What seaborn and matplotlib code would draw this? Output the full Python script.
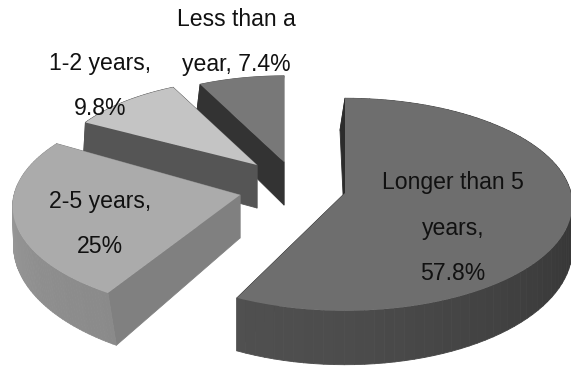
import numpy as np
import matplotlib
matplotlib.use("Agg")
import matplotlib.pyplot as plt
import seaborn as sns
from matplotlib.collections import PolyCollection
from matplotlib.transforms import Transform

# data
categories = ["Longer than 5 years", "2-5 years", "1-2 years", "Less than a year"]
shares = [57.8, 25, 9.8, 7.4]
labels = ["Longer than 5\nyears,\n57.8%", "2-5 years,\n25%", "1-2 years,\n9.8%", "Less than a\nyear, 7.4%"]

# styling / layout (figure pixels)
top_colors = ["#6e6e6e", "#ababab", "#c4c4c4", "#787878"]
rim_colors = [("#333333", "#505050"), ("#8a8a8a", "#9a9a9a"), ("#666666", "#666666"), ("#666666", "#666666")]
cut_colors = ["#2c2c2c", "#808080", "#555555", "#333333"]
apex_x = [345, 240, 257, 284]
apex_y = [193, 195, 165, 162]
radii = [1.0, 1.0, 0.9, 0.9]
theta1_shift = [2.5, -3, 0, 0]   # perspective correction of the drawn wedge, degrees
theta2_shift = [0, -4, 0, 0]
front_skew = [0, 10, 0, 0]
label_x = [453, 100, 100, 236]
label_y = [228, 224, 86, 42]
K, BX, BY = 0.108, 226, 105
W, H = 571, 367


class Tilt(Transform):
    input_dims = output_dims = 2
    is_separable = False
    has_inverse = False

    def __init__(self, cx, cy):
        super().__init__()
        self.cx, self.cy = cx, cy

    def transform_non_affine(self, values):
        v = np.asarray(values, float)
        s = 1 + K * v[:, 1]
        return np.column_stack([self.cx + BX * v[:, 0] / s, self.cy - BY * v[:, 1] / s])


def drop(pts, xy, skew):
    y = xy[:, 1]
    out = pts.copy()
    out[:, 1] += 43 - 11 * y
    out[:, 0] += -5 * np.clip(y, 0, 1) + skew * np.clip(-y, 0, 1)
    return out


sns.set_theme(style="white")
plt.rcParams["font.family"] = ["Liberation Sans", "DejaVu Sans"]
fig, ax = plt.subplots(figsize=(W / 100, H / 100), dpi=100)
ax.set_position([0, 0, 1, 1])
wedges, _ = ax.pie(shares, startangle=90, counterclock=False, colors=top_colors, radius=1)
ax.set_aspect("auto")
ax.set_xlim(0, W)
ax.set_ylim(H, 0)
ax.set_frame_on(False)

order = [3, 2, 1, 0]
for rank, i in enumerate(order):
    w = wedges[i]
    r = radii[i]
    w.set_radius(r)
    w.set_theta1(w.theta1 + theta1_shift[i])
    w.set_theta2(w.theta2 + theta2_shift[i])
    tr = Tilt(apex_x[i], apex_y[i])
    w.set_transform(tr + ax.transData)
    w.set_zorder(rank * 2 + 2)
    w.set_edgecolor("none")
    w.set_clip_on(True)

    th = np.radians(np.linspace(w.theta1, w.theta2, 90))
    rim = r * np.column_stack([np.cos(th), np.sin(th)])
    loop = np.vstack([[0, 0], rim, [0, 0]])
    n = len(loop) - 1
    ramp = sns.blend_palette(list(rim_colors[i]), n)
    order_x = np.argsort(rim[:, 0])
    xrank = np.empty(len(rim), int)
    xrank[order_x] = np.arange(len(rim))
    quads, cols, keys = [], [], []
    for j in range(n):
        seg = loop[j:j + 2]
        top = tr.transform_non_affine(seg)
        bot = drop(top, seg, front_skew[i])
        quads.append(np.vstack([top, bot[::-1]]))
        is_cut = j == 0 or j == n - 1
        cols.append(cut_colors[i] if is_cut else ramp[n - 1 - int(xrank[j])])
        keys.append(top[:, 1].mean())
    idx = np.argsort(keys)
    pc = PolyCollection([quads[q] for q in idx], facecolors=[cols[q] for q in idx],
                        edgecolors=[cols[q] for q in idx], linewidths=0.6, zorder=rank * 2 + 1)
    ax.add_collection(pc)

for t, x, y in zip(labels, label_x, label_y):
    ax.text(x, y, t, ha="center", va="center", fontsize=16.6, color="#111111",
            linespacing=2.25, zorder=20)

fig.savefig("out.png", dpi=100)
